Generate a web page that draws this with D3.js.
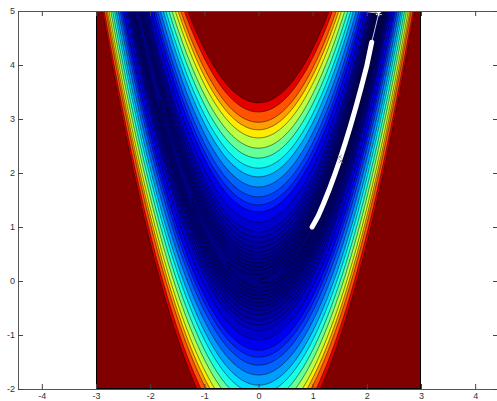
<!DOCTYPE html>
<html>
<head>
<meta charset="utf-8">
<script src="https://cdn.jsdelivr.net/npm/d3@7"></script>
<style>
  body { margin: 0; background: #fff; }
  text { font-family: 'Liberation Sans', Arial, sans-serif; }
</style>
</head>
<body>
<div id="chart"></div>
<script>
// axis ticks
const xTicks = [-4, -3, -2, -1, 0, 1, 2, 3, 4]
const yTicks = [-2, -1, 0, 1, 2, 3, 4, 5]

// plotted area of the surface
const xRange = [-3, 3]
const yRange = [-2, 5]

// contour levels (top one = dark red)
const levels = [0.3, 1, 2.5, 5, 8, 12, 17, 23, 30, 40, 53, 67, 84, 120, 165, 200,
  244, 304, 373, 438, 519, 606, 703, 785, 865, 981, 1090]

// white search path along the valley
const pathX = [0.99, 1.1, 1.2, 1.3, 1.4, 1.5, 1.6, 1.7, 1.8, 1.9, 2.0, 2.09]
const pathY = [1.0, 1.2, 1.43, 1.68, 1.95, 2.24, 2.55, 2.88, 3.23, 3.6, 3.99, 4.42]

// first steps from the start point (thin grey)
const startX = [1.97, 2.22, 2.09]
const startY = [4.99, 4.96, 4.42]

// small grey markers sitting on the path
const markX = [1.5, 1.52]
const markY = [2.3, 2.22]

const width = 497
const height = 401

const svg = d3.select('#chart')
  .append('svg')
  .attr('width', width)
  .attr('height', height)

const x = d3.scaleLinear().domain([-4.44, 4.44]).range([18, 499])
const y = d3.scaleLinear().domain([-2, 5]).range([389, 11])

// banana function the picture shows
function rosen(a, b) {
  return (1 - a) * (1 - a) + 100 * (b - a * a) * (b - a * a)
}

function jet(t) {
  const c = v => Math.max(0, Math.min(1, v))
  const r = c(1.5 - Math.abs(4 * t - 3))
  const g = c(1.5 - Math.abs(4 * t - 2))
  const b = c(1.5 - Math.abs(4 * t - 1))
  return d3.rgb(r * 255, g * 255, b * 255).toString()
}

// sample the surface at cell centres
const step = 0.01
const nx = Math.round((xRange[1] - xRange[0]) / step)
const ny = Math.round((yRange[1] - yRange[0]) / step)
const values = new Float64Array(nx * ny)
for (let j = 0; j < ny; j++) {
  const yy = yRange[1] - (j + 0.5) * step
  for (let i = 0; i < nx; i++) {
    values[j * nx + i] = rosen(xRange[0] + (i + 0.5) * step, yy)
  }
}

const contours = d3.contours().size([nx, ny]).thresholds(levels)(values)

const proj = d3.geoTransform({
  point: function(gx, gy) {
    this.stream.point(x(xRange[0] + gx * step), y(yRange[1] - gy * step))
  }
})
const path = d3.geoPath(proj)

svg.append('clipPath')
  .attr('id', 'plot-clip')
  .append('rect')
  .attr('x', x(xRange[0]))
  .attr('y', y(yRange[1]))
  .attr('width', x(xRange[1]) - x(xRange[0]))
  .attr('height', y(yRange[0]) - y(yRange[1]))

const plot = svg.append('g').attr('clip-path', 'url(#plot-clip)')

const lmax = levels[levels.length - 1]

plot.append('rect')
  .attr('x', x(xRange[0]))
  .attr('y', y(yRange[1]))
  .attr('width', x(xRange[1]) - x(xRange[0]))
  .attr('height', y(yRange[0]) - y(yRange[1]))
  .attr('fill', jet(0))

plot.selectAll('.band')
  .data(contours)
  .enter()
  .append('path')
  .attr('class', 'band')
  .attr('d', path)
  .attr('fill', d => jet(d.value / lmax))

plot.selectAll('.iso')
  .data(contours)
  .enter()
  .append('path')
  .attr('class', 'iso')
  .attr('d', path)
  .attr('fill', 'none')
  .attr('stroke', '#000')
  .attr('stroke-opacity', 0.85)
  .attr('stroke-width', 0.6)

// search path
const line = d3.line().x(d => x(d[0])).y(d => y(d[1]))

plot.append('path')
  .datum(startX.map((d, i) => [d, startY[i]]))
  .attr('d', line)
  .attr('fill', 'none')
  .attr('stroke', '#c8c8c8')
  .attr('stroke-width', 1)

plot.append('path')
  .datum(pathX.map((d, i) => [d, pathY[i]]))
  .attr('d', line)
  .attr('fill', 'none')
  .attr('stroke', '#fff')
  .attr('stroke-width', 5)
  .attr('stroke-linecap', 'round')
  .attr('stroke-linejoin', 'round')

plot.append('path')
  .attr('d', d3.symbol(d3.symbolAsterisk, 28)())
  .attr('transform', 'translate(' + x(startX[1]) + ',' + y(startY[1]) + ')')
  .attr('fill', 'none')
  .attr('stroke', '#fff')
  .attr('stroke-width', 1.2)

plot.selectAll('.mark')
  .data(markX.map((d, i) => [d, markY[i]]))
  .enter()
  .append('path')
  .attr('class', 'mark')
  .attr('d', d3.symbol(d3.symbolX, 12)())
  .attr('transform', d => 'translate(' + x(d[0]) + ',' + y(d[1]) + ')')
  .attr('fill', 'none')
  .attr('stroke', '#888')
  .attr('stroke-width', 0.8)

// axes, matlab style: ticks point inward, box all round
const fmt = d => String(d)

const xAxis = svg.append('g')
  .attr('class', 'axis x-axis')
  .attr('transform', 'translate(0,' + y(-2) + ')')
  .call(d3.axisBottom(x).tickValues(xTicks).tickFormat(fmt).tickSizeInner(-5).tickSizeOuter(0).tickPadding(4))

const yAxis = svg.append('g')
  .attr('class', 'axis y-axis')
  .attr('transform', 'translate(' + x.range()[0] + ',0)')
  .call(d3.axisLeft(y).tickValues(yTicks).tickFormat(fmt).tickSizeInner(-5).tickSizeOuter(0).tickPadding(3))

svg.append('g')
  .attr('class', 'axis top-axis')
  .attr('transform', 'translate(0,' + y(5) + ')')
  .call(d3.axisTop(x).tickValues(xTicks).tickFormat('').tickSizeInner(-5).tickSizeOuter(0))

svg.append('g')
  .attr('class', 'axis right-axis')
  .attr('transform', 'translate(' + (x.range()[1] - 1) + ',0)')
  .call(d3.axisRight(y).tickValues(yTicks).tickFormat('').tickSizeInner(-5).tickSizeOuter(0))

svg.selectAll('.axis .domain').attr('stroke', '#555')
svg.selectAll('.axis line').attr('stroke', '#444')
svg.selectAll('.axis text')
  .attr('fill', '#333')
  .attr('font-size', '9px')
  .attr('font-family', "'Liberation Sans', Arial, sans-serif")
</script>
</body>
</html>
